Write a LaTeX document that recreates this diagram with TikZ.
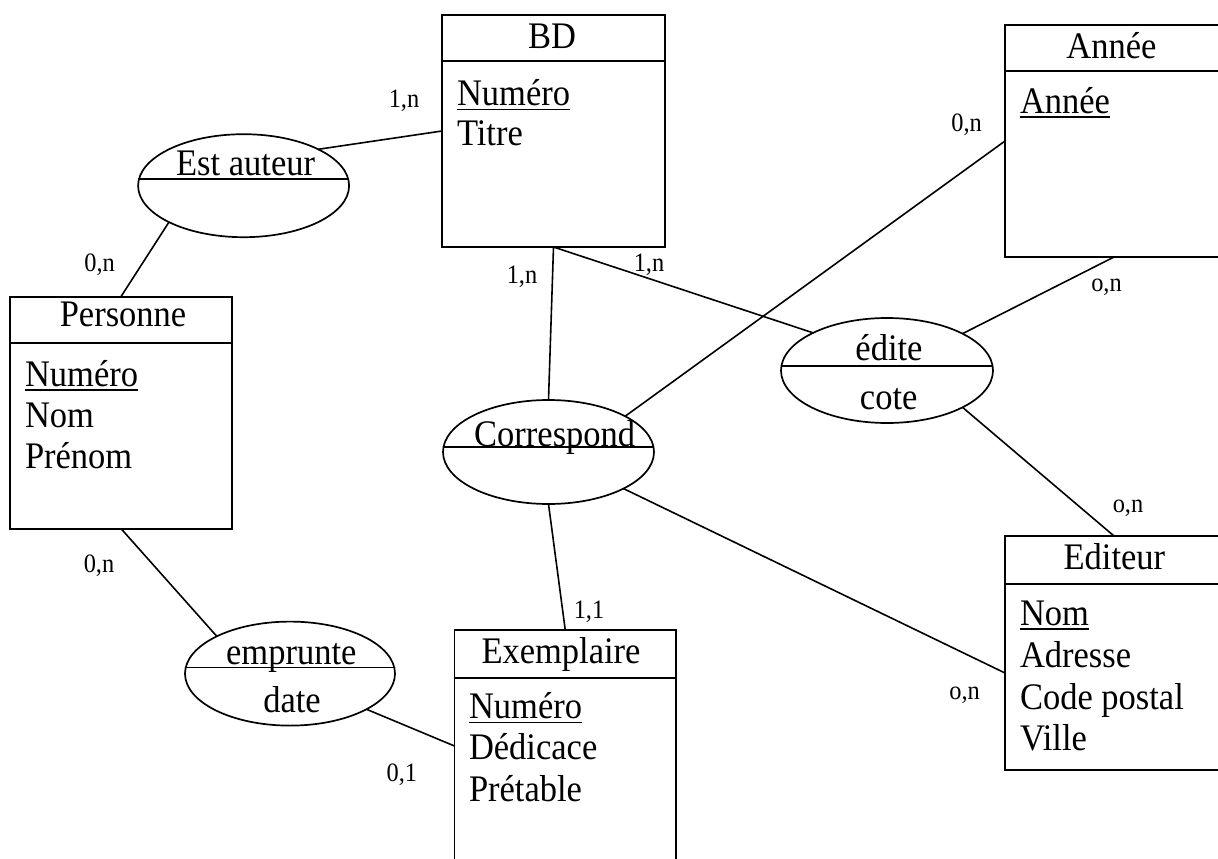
\documentclass[tikz,border=0pt]{standalone}
\usepackage{fontspec}
\setmainfont[FakeStretch=0.92]{Liberation Serif}
\usetikzlibrary{shapes.geometric,calc}
\newcommand{\keyattr}[1]{\setbox0=\hbox{#1}\rlap{\rule[-4.6pt]{\wd0}{1.6pt}}\box0}
\begin{document}
\begin{tikzpicture}[x=1pt,y=-1pt,
  every node/.style={inner sep=0pt, outer sep=0pt},
  entity/.style={draw, line width=1.8pt, rectangle, anchor=north west},
  assoc/.style={draw, line width=1.7pt, ellipse},
  link/.style={line width=1.6pt},
  sep/.style={line width=1.7pt},
  title/.style={font=\fontsize{37.5}{42}\selectfont, anchor=base},
  attr/.style={font=\fontsize{37.5}{42}\selectfont, anchor=base west},
  card/.style={font=\fontsize{26.5}{30}\selectfont}
]
\useasboundingbox (0,0) rectangle (1218,859);
\fill[white] (0,0) rectangle (1218,859);
\begin{scope}
\clip (0,0) rectangle (1218,859);

% ---- entities ----
\node[entity, minimum width=223pt, minimum height=232pt] (bd) at (442,15) {};
\draw[sep] ([yshift=-46pt]bd.north west) -- ([yshift=-46pt]bd.north east);
\node[title] (bdt) at (552,48.3) {BD};
\node[attr] (bd1) at (457,105.5) {\keyattr{Numéro}};
\node[attr] (bd2) at (457,145) {Titre};

\node[entity, minimum width=218pt, minimum height=232pt] (annee) at (1005,25) {};
\draw[sep] ([yshift=-46pt]annee.north west) -- ([yshift=-46pt]annee.north east);
\node[title] (anneet) at (1111.5,58.3) {Année};
\node[attr] (annee1) at (1020,113.3) {\keyattr{Année}};

\node[entity, minimum width=222pt, minimum height=232pt] (personne) at (10,296.6) {};
\draw[sep] ([yshift=-46.2pt]personne.north west) -- ([yshift=-46.2pt]personne.north east);
\node[title] (personnet) at (123,326.9) {Personne};
\node[attr] (pers1) at (25,386.3) {\keyattr{Numéro}};
\node[attr] (pers2) at (25,427) {Nom};
\node[attr] (pers3) at (25,468) {Prénom};

\node[entity, minimum width=221.5pt, minimum height=250pt] (exemplaire) at (454.5,630) {};
\draw[sep] ([yshift=-48pt]exemplaire.north west) -- ([yshift=-48pt]exemplaire.north east);
\node[title] (exemplairet) at (561,663.3) {Exemplaire};
\node[attr] (ex1) at (469,718.7) {\keyattr{Numéro}};
\node[attr] (ex2) at (469,759.3) {Dédicace};
\node[attr] (ex3) at (469,801.4) {Prétable};

\node[entity, minimum width=218pt, minimum height=234pt] (editeur) at (1005,536) {};
\draw[sep] ([yshift=-48pt]editeur.north west) -- ([yshift=-48pt]editeur.north east);
\node[title] (editeurt) at (1114.4,569.9) {Editeur};
\node[attr] (ed1) at (1020,625.3) {\keyattr{Nom}};
\node[attr] (ed2) at (1020,667) {Adresse};
\node[attr] (ed3) at (1020,709.5) {Code postal};
\node[attr] (ed4) at (1020,750.8) {Ville};

% ---- associations ----
\node[assoc, minimum width=211pt, minimum height=103pt] (estauteur) at (243.6,185.7) {};
\draw[sep] ([yshift=6.7pt]estauteur.west) -- ([yshift=6.7pt]estauteur.east);
\node[title] (estauteurt) at (245.6,175) {Est auteur};

\node[assoc, minimum width=211pt, minimum height=104pt] (correspond) at (548.5,452) {};
\draw[sep] ([yshift=5pt]correspond.west) -- ([yshift=5pt]correspond.east);
\node[title] (correspondt) at (554.7,446) {Correspond};

\node[assoc, minimum width=210pt, minimum height=104pt] (emprunte) at (290,673.6) {};
\draw[sep] ([yshift=6pt]emprunte.west) -- ([yshift=6pt]emprunte.east);
\node[title] (empruntet) at (291.3,664) {emprunte};
\node[title] (empruntea) at (292,712) {date};

\node[assoc, minimum width=212pt, minimum height=105pt] (edite) at (887,370.5) {};
\draw[sep] ([yshift=4.8pt]edite.west) -- ([yshift=4.8pt]edite.east);
\node[title] (editet) at (889,360.5) {édite};
\node[title] (editea) at (888.7,409) {cote};

% ---- links ----
\draw[link] (estauteur.26.9) -- (bd.west);
\draw[link] (estauteur.206.3) -- (personne.north);
\draw[link] (bd.south) -- (correspond.north);
\draw[link] (bd.south) -- (edite.153.4);
\draw[link] (correspond.25.9) -- (annee.west);
\draw[link] (edite.26.5) -- (annee.south);
\draw[link] (edite.-26.6) -- (editeur.north);
\draw[link] (correspond.-26.5) -- ([yshift=-20pt]editeur.west);
\draw[link] (correspond.south) -- (exemplaire.north);
\draw[link] (personne.south) -- (emprunte.153.7);
\draw[link] (emprunte.-25.6) -- ([yshift=-116pt]exemplaire.north west);

% ---- cardinalities ----
\node[card] (c1) at (404,101) {1,n};
\node[card] (c2) at (99.6,265) {0,n};
\node[card] (c3) at (522,277) {1,n};
\node[card] (c4) at (649,265) {1,n};
\node[card] (c5) at (966.6,125) {0,n};
\node[card] (c6) at (1106.5,287) {o,n};
\node[card] (c7) at (1128,508) {o,n};
\node[card] (c8) at (964.6,695) {o,n};
\node[card] (c9) at (99,566) {0,n};
\node[card] (c10) at (589,612) {1,1};
\node[card] (c11) at (401.8,775) {0,1};
\end{scope}
\end{tikzpicture}
\end{document}
